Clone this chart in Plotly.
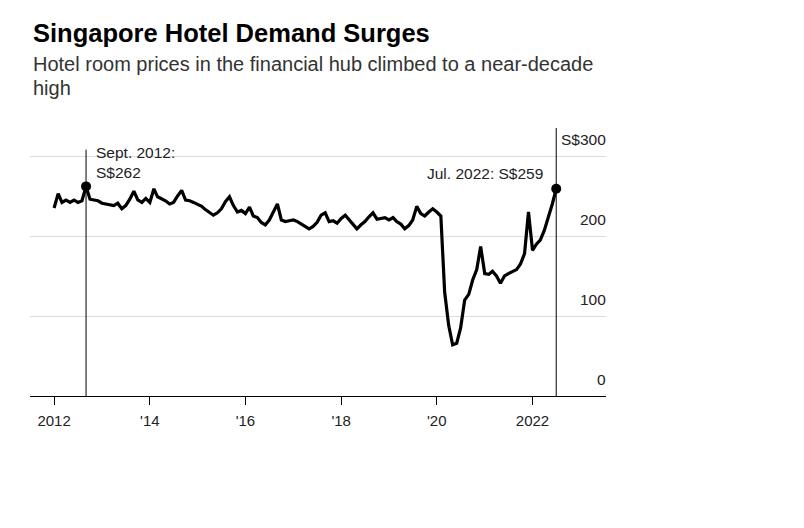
import pandas as pd
import plotly.graph_objects as go

# ---- data ----
months = pd.date_range("2012-01-01", "2022-07-01", freq="MS")
prices = [
    235, 253, 242, 245, 242, 245, 242, 244, 262, 246, 245, 244,  # 2012
    241, 240, 239, 238, 241, 234, 238, 246, 256, 245, 242, 247,  # 2013
    242, 259, 249, 247, 244, 240, 242, 250, 257, 245, 244, 242,  # 2014
    239, 237, 233, 229, 226, 229, 234, 243, 249, 238, 230, 232,  # 2015
    228, 236, 225, 223, 217, 214, 220, 230, 240, 220, 218, 219,  # 2016
    220, 218, 215, 212, 209, 212, 217, 226, 229, 218, 219, 216,  # 2017
    222, 226, 221, 215, 209, 214, 218, 224, 229, 221, 222, 223,  # 2018
    220, 223, 218, 215, 209, 213, 220, 237, 228, 225, 230, 234,  # 2019
    230, 225, 130, 88, 64, 66, 85, 120, 127, 145, 158, 187,      # 2020
    153, 152, 156, 150, 141, 150, 153, 155, 158, 165, 178, 230,  # 2021
    182, 190, 195, 207, 222, 240, 259,                           # 2022
]
tick_dates = ["2012-01-01", "2014-01-01", "2016-01-01", "2018-01-01", "2020-01-01", "2022-01-01"]
tick_labels = ["2012", "'14", "'16", "'18", "'20", "2022"]
y_vals = [0, 100, 200, 300]
y_labels = ["0", "100", "200", "S$300"]

callout_dates = ["2012-09-01", "2022-07-01"]
callout_values = [262, 259]
callout_texts = [["Sept. 2012:", "S$262"], ["Jul. 2022: S$259"]]

title = "Singapore Hotel Demand Surges"
subtitle_lines = ["Hotel room prices in the financial hub climbed to a near-decade", "high"]

FONT = "Liberation Sans, Arial, Helvetica, sans-serif"
SMALL = 15.5
PLOT_BOTTOM = 396.0   # screen px of the x axis
PLOT_H = 268.0

def paper_y(px):
    return (PLOT_BOTTOM - px) / PLOT_H

fig = go.Figure()
fig.add_trace(go.Scatter(
    x=months, y=prices, mode="lines",
    line=dict(color="#000000", width=3.2),
    hoverinfo="skip", showlegend=False,
))
fig.add_trace(go.Scatter(
    x=callout_dates, y=callout_values, mode="markers",
    marker=dict(color="#000000", size=10),
    hoverinfo="skip", showlegend=False,
))

shapes = [
    dict(type="line", xref="x", yref="y", x0=callout_dates[0], x1=callout_dates[0],
         y0=0, y1=308, line=dict(color="#000000", width=1)),
    dict(type="line", xref="x", yref="paper", x0=callout_dates[1], x1=callout_dates[1],
         y0=0, y1=1, line=dict(color="#000000", width=1)),
]

annotations = []
for v, lab in zip(y_vals, y_labels):
    annotations.append(dict(
        xref="paper", yref="y", x=1, y=v, text=lab, showarrow=False,
        xanchor="right", yanchor="bottom", yshift=6, xshift=2,
        font=dict(family=FONT, size=SMALL, color="#222222"),
    ))
annotations.append(dict(
    xref="x", yref="y", x=callout_dates[0], y=304.5, text=callout_texts[0][0],
    showarrow=False, xanchor="left", yanchor="middle", xshift=8,
    font=dict(family=FONT, size=SMALL, color="#222222"),
))
annotations.append(dict(
    xref="x", yref="y", x=callout_dates[0], y=279.5, text=callout_texts[0][1],
    showarrow=False, xanchor="left", yanchor="middle", xshift=8,
    font=dict(family=FONT, size=SMALL, color="#222222"),
))
annotations.append(dict(
    xref="x", yref="y", x=callout_dates[1], y=278.5, text=callout_texts[1][0],
    showarrow=False, xanchor="right", yanchor="middle", xshift=-11,
    font=dict(family=FONT, size=SMALL, color="#222222"),
))
annotations.append(dict(
    xref="paper", yref="paper", x=0, y=paper_y(33), text="<b>" + title + "</b>",
    showarrow=False, xanchor="left", yanchor="middle", xshift=1,
    font=dict(family=FONT, size=25.5, color="#000000"),
))
for i, line in enumerate(subtitle_lines):
    annotations.append(dict(
        xref="paper", yref="paper", x=0, y=paper_y(64 + 24 * i), text=line,
        showarrow=False, xanchor="left", yanchor="middle", xshift=1,
        font=dict(family=FONT, size=20, color="#333333"),
    ))

fig.update_layout(
    width=804, height=528,
    margin=dict(l=22, r=206, t=120, b=140),
    paper_bgcolor="#ffffff", plot_bgcolor="#ffffff",
    font=dict(family=FONT, size=SMALL, color="#222222"),
    xaxis=dict(
        type="date", range=["2011-07-01", "2023-07-16"],
        tickvals=tick_dates, ticktext=tick_labels,
        showgrid=False, zeroline=False,
        showline=True, linecolor="#000000", linewidth=1,
        ticks="outside", ticklen=8, tickcolor="#000000", tickwidth=1,
        ticklabelstandoff=3,
        tickfont=dict(family=FONT, size=15, color="#222222"),
    ),
    yaxis=dict(
        range=[0, 335], tickvals=y_vals, showticklabels=False,
        showgrid=True, gridcolor="#dcdcdc", gridwidth=1, zeroline=False,
        showline=False,
    ),
    shapes=shapes,
    annotations=annotations,
)

fig.write_html("out.html")
